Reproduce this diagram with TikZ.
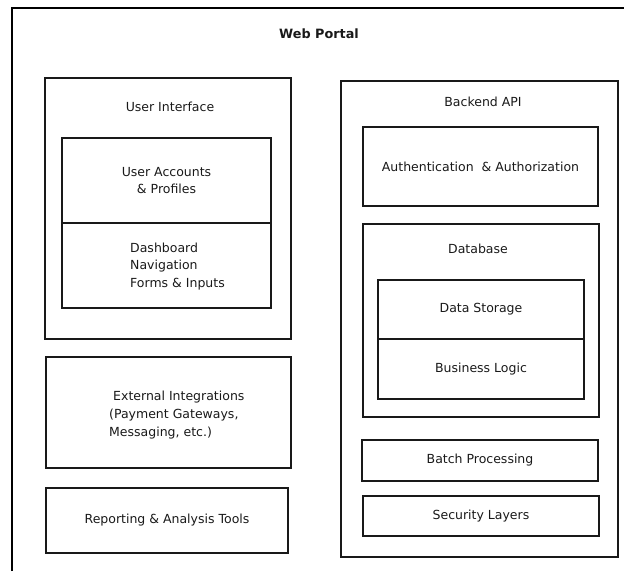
\documentclass[tikz,border=0pt]{standalone}
\usepackage{fontspec}
\setmainfont{DejaVu Sans}
\begin{document}
\begin{tikzpicture}[x=1pt,y=-1pt,
  box/.style={draw=black!90, line width=1.5pt, minimum width=#1, inner sep=0pt},
  lbl/.style={font=\fontsize{12.5}{17.8}\selectfont, inner sep=0pt, text=black!90},
]
\useasboundingbox (0,0) rectangle (624,571);
% outer frame (cropped)
\coordinate (fbl) at (12,571);
\coordinate (ftl) at (12,8);
\coordinate (ftr) at (624,8);
\draw[line width=2.5pt, black] (fbl) -- (ftl) -- (ftr);
\node[lbl, font=\fontsize{12.8}{14}\selectfont\bfseries] (title) at (319,34) {Web Portal};

% left column
\node[box=246pt, minimum height=261pt] (ui) at (168,208.5) {};
\node[lbl] (uit) at (170,107) {User Interface};
\node[box=209pt, minimum height=85pt, lbl, align=center] (ua) at (166.5,180.5) {User Accounts\\\& Profiles};
\node[box=209pt, minimum height=85pt] (dash) at (166.5,265.5) {};
\node[lbl, align=left, anchor=west] (dasht) at (130,266.5) {Dashboard\\Navigation\\Forms \& Inputs};

\node[box=245pt, minimum height=111pt] (ext) at (168.5,412.5) {};
\node[lbl, align=left, anchor=west] (extt) at (109,415) {\hspace{4pt}External Integrations\\(Payment Gateways,\\Messaging, etc.)};

\node[box=242pt, minimum height=65pt, lbl] (rep) at (167,520.5) {Reporting \& Analysis Tools};

% right column
\node[box=277pt, minimum height=476pt] (api) at (479.5,319) {};
\node[lbl] (apit) at (483,102) {Backend API};
\node[box=235pt, minimum height=79pt, lbl] (auth) at (480.5,166.5) {Authentication\ \ \& Authorization};
\node[box=236pt, minimum height=193pt] (db) at (481,320.5) {};
\node[lbl] (dbt) at (478,249) {Database};
\node[box=206pt, minimum height=59pt, lbl] (ds) at (481,309.5) {Data Storage};
\node[box=206pt, minimum height=60pt, lbl] (bl) at (481,369) {Business Logic};
\node[box=236pt, minimum height=41pt, lbl] (batch) at (480,460.5) {Batch Processing};
\node[box=236pt, minimum height=40pt, lbl] (sec) at (481,516) {Security Layers};
\end{tikzpicture}
\end{document}
